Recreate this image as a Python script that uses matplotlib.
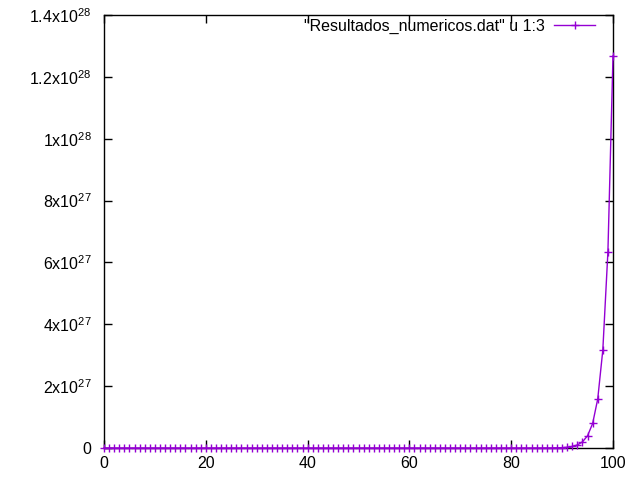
import matplotlib
matplotlib.use("Agg")
import matplotlib.pyplot as plt
from matplotlib.ticker import FuncFormatter, MultipleLocator

plt.rcParams['font.family'] = ['Liberation Sans', 'DejaVu Sans']
plt.rcParams['mathtext.fontset'] = 'custom'
plt.rcParams['mathtext.rm'] = 'Liberation Sans'
plt.rcParams['mathtext.it'] = 'Liberation Sans'

x_values = list(range(0, 101))
y_tail = [1.209e22, 2.418e22, 4.836e22, 9.671e22, 1.934e23, 3.869e23, 7.737e23,
          1.547e24, 3.095e24, 6.190e24, 1.238e25, 2.476e25, 4.952e25, 9.904e25,
          1.981e26, 3.961e26, 7.923e26, 1.585e27, 3.169e27, 6.338e27, 1.268e28]
y_values = [0.0] * 80 + y_tail
series_label = '"Resultados_numericos.dat" u 1:3'
color = '#9400D3'

fig = plt.figure(figsize=(6.4, 4.8), dpi=100)
ax = fig.add_axes([104/640, 32/480, (613-104)/640, (448-15)/480])
ax.plot(x_values, y_values, color=color, lw=1, marker='+', ms=6, mew=1,
        label=series_label, clip_on=False, zorder=3)
ax.set_xlim(0, 100)
ax.set_ylim(0, 1.4e28)
ax.xaxis.set_major_locator(MultipleLocator(20))
ax.yaxis.set_major_locator(MultipleLocator(2e27))

def yfmt(v, pos):
    if v == 0:
        return '0'
    exp = 27
    m = v / 10**exp
    if m >= 10:
        exp = 28
        m = v / 10**exp
    ms = ('%g' % round(m, 2))
    return r'$\mathrm{%sx10}^{%d}$' % (ms, exp)

fs = 11.5
ax.yaxis.set_major_formatter(FuncFormatter(yfmt))
ax.tick_params(direction='in', top=True, right=True, length=6, width=1,
               labelsize=fs, colors='black')
ax.tick_params(axis='y', pad=9)
ax.tick_params(axis='x', pad=6)
for s in ax.spines.values():
    s.set_linewidth(1)
leg = ax.legend(loc='upper right', frameon=False, fontsize=fs, handlelength=2.55,
                borderaxespad=0.0, borderpad=0.0, handletextpad=0.6,
                markerfirst=False, bbox_to_anchor=((595-104)/509, 1 - 4/433))
fig.savefig('out.png', dpi=100)
